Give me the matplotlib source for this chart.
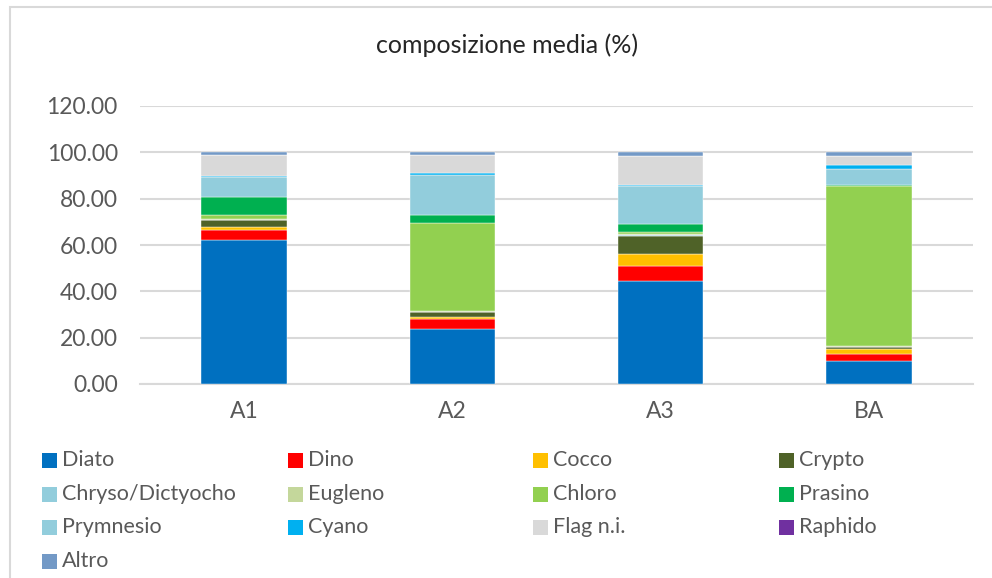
import matplotlib
matplotlib.use("Agg")
import matplotlib.pyplot as plt
from matplotlib.patches import Rectangle
import numpy as np

plt.rcParams['font.family'] = ['Lato', 'DejaVu Sans']

categories = ["A1", "A2", "A3", "BA"]
series_names = ["Diato", "Dino", "Cocco", "Crypto", "Chryso/Dictyocho", "Eugleno",
                "Chloro", "Prasino", "Prymnesio", "Cyano", "Flag n.i.", "Raphido", "Altro"]
Diato = [62.0, 23.9, 44.6, 10.0]
Dino = [4.4, 4.0, 6.4, 3.1]
Cocco = [1.2, 1.1, 5.0, 2.0]
Crypto = [3.0, 1.9, 8.1, 0.9]
Chryso = [0.3, 0.2, 0.2, 0.1]
Eugleno = [0.4, 0.3, 0.5, 0.2]
Chloro = [1.6, 38.0, 1.0, 69.0]
Prasino = [7.9, 3.7, 3.3, 0.4]
Prymnesio = [8.6, 17.2, 16.3, 7.2]
Cyano = [0.6, 0.6, 0.6, 1.5]
Flag = [8.8, 7.8, 12.4, 3.9]
Raphido = [0.0, 0.0, 0.0, 0.0]
Altro = [1.2, 1.3, 1.6, 1.7]
values = [Diato, Dino, Cocco, Crypto, Chryso, Eugleno, Chloro, Prasino,
          Prymnesio, Cyano, Flag, Raphido, Altro]
colors = ["#0070C0", "#FF0000", "#FFC000", "#4F6228", "#92CDDC", "#C4D79B",
          "#92D050", "#00B050", "#92CDDC", "#00B0F0", "#D9D9D9", "#7030A0", "#7399C6"]
yticks = [0, 20, 40, 60, 80, 100, 120]

W, H = 992, 578
fig = plt.figure(figsize=(W / 100, H / 100), dpi=100)
fig.patch.set_facecolor("white")

# chart border
fig.patches.append(Rectangle((10 / W, -0.05), 1.2, 1 - 7 / H + 0.05, transform=fig.transFigure,
                             fill=False, edgecolor="#D9D9D9", linewidth=1.5))

ax = fig.add_axes([140 / W, 1 - 384 / H, (973 - 140) / W, (384 - 106) / H])
x = np.arange(len(categories))
bottom = np.zeros(len(categories))
for name, vals, c in zip(series_names, values, colors):
    v = np.array(vals)
    ax.bar(x, v, bottom=bottom, width=0.41, color=c, label=name, zorder=3,
           edgecolor="white", linewidth=0.3)
    bottom += v

ax.set_xlim(-0.5, 3.5)
ax.set_ylim(0, 120)
ax.set_yticks(yticks)
ax.set_yticklabels([f"{t:.2f}" for t in yticks])
ax.set_xticks(x)
ax.set_xticklabels(categories)
ax.grid(axis="y", color="#D9D9D9", linewidth=1.5, zorder=0)
for s in ["top", "right", "left"]:
    ax.spines[s].set_visible(False)
ax.spines["bottom"].set_color("#D9D9D9")
ax.spines["bottom"].set_linewidth(1.5)
ax.tick_params(axis="both", length=0, labelsize=16.5, labelcolor="#595959")
ax.tick_params(axis="y", pad=16)
ax.tick_params(axis="x", pad=12)

fig.text(507 / W, 1 - 45 / H, "composizione media (%)", ha="center", va="center",
         fontsize=18, color="#262626")

# legend (Excel-style, row-major, 4 columns)
col_x = [42, 288, 533, 779]
row_y = [460, 494, 527, 561]
for i, (name, c) in enumerate(zip(series_names, colors)):
    r, k = divmod(i, 4)
    px, py = col_x[k], row_y[r]
    fig.patches.append(Rectangle((px / W, (H - py - 7.5) / H), 15 / W, 15 / H,
                                 transform=fig.transFigure, facecolor=c, edgecolor="none"))
    fig.text((px + 20) / W, 1 - py / H, name, ha="left", va="center",
             fontsize=15.5, color="#595959")

fig.savefig("out.png", dpi=100)
